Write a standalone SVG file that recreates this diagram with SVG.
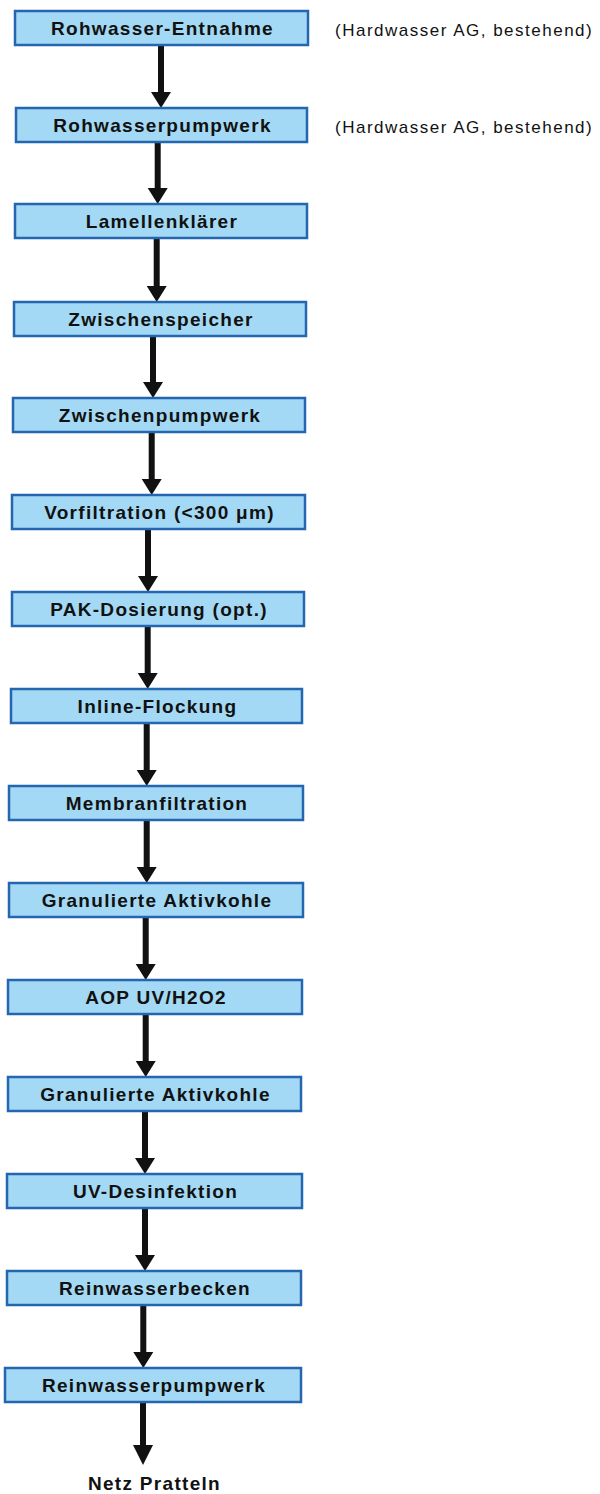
<svg xmlns="http://www.w3.org/2000/svg" width="600" height="1494" viewBox="0 0 600 1494">
<style>
.box{fill:#a3d9f5;stroke:#2466b0;stroke-width:2.5}
.lbl{font-family:"Liberation Sans",Arial,sans-serif;font-weight:bold;font-size:19px;letter-spacing:1.3px;fill:#111;text-anchor:middle}
.note{font-family:"Liberation Sans",Arial,sans-serif;font-size:17px;letter-spacing:1.5px;fill:#111}
.arr{fill:#111}
</style>
<rect width="600" height="1494" fill="#fff"/>
<g id="connectors">
<path class="arr" d="M158,45 h6 v47 h7 l-10,16 l-10,-16 h7 z"/>
<path class="arr" d="M154.7,142 h6 v46 h7 l-10,16 l-10,-16 h7 z"/>
<path class="arr" d="M153.7,238 h6 v48 h7 l-10,16 l-10,-16 h7 z"/>
<path class="arr" d="M150,336 h6 v46 h7 l-10,16 l-10,-16 h7 z"/>
<path class="arr" d="M148.7,432 h6 v47 h7 l-10,16 l-10,-16 h7 z"/>
<path class="arr" d="M145,529 h6 v47 h7 l-10,16 l-10,-16 h7 z"/>
<path class="arr" d="M144.7,626 h6 v47 h7 l-10,16 l-10,-16 h7 z"/>
<path class="arr" d="M143.7,723 h6 v47 h7 l-10,16 l-10,-16 h7 z"/>
<path class="arr" d="M143.7,820 h6 v47 h7 l-10,16 l-10,-16 h7 z"/>
<path class="arr" d="M142.7,917 h6 v47 h7 l-10,16 l-10,-16 h7 z"/>
<path class="arr" d="M142.7,1014 h6 v47 h7 l-10,16 l-10,-16 h7 z"/>
<path class="arr" d="M142,1111 h6 v47 h7 l-10,16 l-10,-16 h7 z"/>
<path class="arr" d="M142,1208 h6 v47 h7 l-10,16 l-10,-16 h7 z"/>
<path class="arr" d="M140.3,1305 h6 v47 h7 l-10,16 l-10,-16 h7 z"/>
<path class="arr" d="M140,1402 h6 v43 h7 l-10,20 l-10,-20 h7 z"/>
</g>
<g id="n1"><rect class="box" x="15" y="11" width="293" height="34"/><text class="lbl" x="162.5" y="35">Rohwasser-Entnahme</text></g>
<g id="n2"><rect class="box" x="16" y="108" width="291" height="34"/><text class="lbl" x="162.5" y="132">Rohwasserpumpwerk</text></g>
<g id="n3"><rect class="box" x="15" y="204" width="292" height="34"/><text class="lbl" x="162" y="228">Lamellenklärer</text></g>
<g id="n4"><rect class="box" x="14" y="302" width="292" height="34"/><text class="lbl" x="161" y="326">Zwischenspeicher</text></g>
<g id="n5"><rect class="box" x="13" y="398" width="292" height="34"/><text class="lbl" x="160" y="422">Zwischenpumpwerk</text></g>
<g id="n6"><rect class="box" x="12" y="495" width="293" height="34"/><text class="lbl" x="159.5" y="519">Vorfiltration (&lt;300 μm)</text></g>
<g id="n7"><rect class="box" x="12" y="592" width="292" height="34"/><text class="lbl" x="159" y="616">PAK-Dosierung (opt.)</text></g>
<g id="n8"><rect class="box" x="11" y="689" width="291" height="34"/><text class="lbl" x="157.5" y="713">Inline-Flockung</text></g>
<g id="n9"><rect class="box" x="9" y="786" width="294" height="34"/><text class="lbl" x="157" y="810">Membranfiltration</text></g>
<g id="n10"><rect class="box" x="9" y="883" width="294" height="34"/><text class="lbl" x="157" y="907">Granulierte Aktivkohle</text></g>
<g id="n11"><rect class="box" x="8" y="980" width="294" height="34"/><text class="lbl" x="156" y="1004">AOP UV/H2O2</text></g>
<g id="n12"><rect class="box" x="8" y="1077" width="293" height="34"/><text class="lbl" x="155.5" y="1101">Granulierte Aktivkohle</text></g>
<g id="n13"><rect class="box" x="7" y="1174" width="295" height="34"/><text class="lbl" x="155.5" y="1198">UV-Desinfektion</text></g>
<g id="n14"><rect class="box" x="7" y="1271" width="294" height="34"/><text class="lbl" x="155" y="1295">Reinwasserbecken</text></g>
<g id="n15"><rect class="box" x="5" y="1368" width="296" height="34"/><text class="lbl" x="154" y="1392">Reinwasserpumpwerk</text></g>
<g id="n16"><text class="lbl" x="154.5" y="1490">Netz Pratteln</text></g>
<g id="notes">
<text class="note" x="335" y="36">(Hardwasser AG, bestehend)</text>
<text class="note" x="335" y="133">(Hardwasser AG, bestehend)</text>
</g>
</svg>
